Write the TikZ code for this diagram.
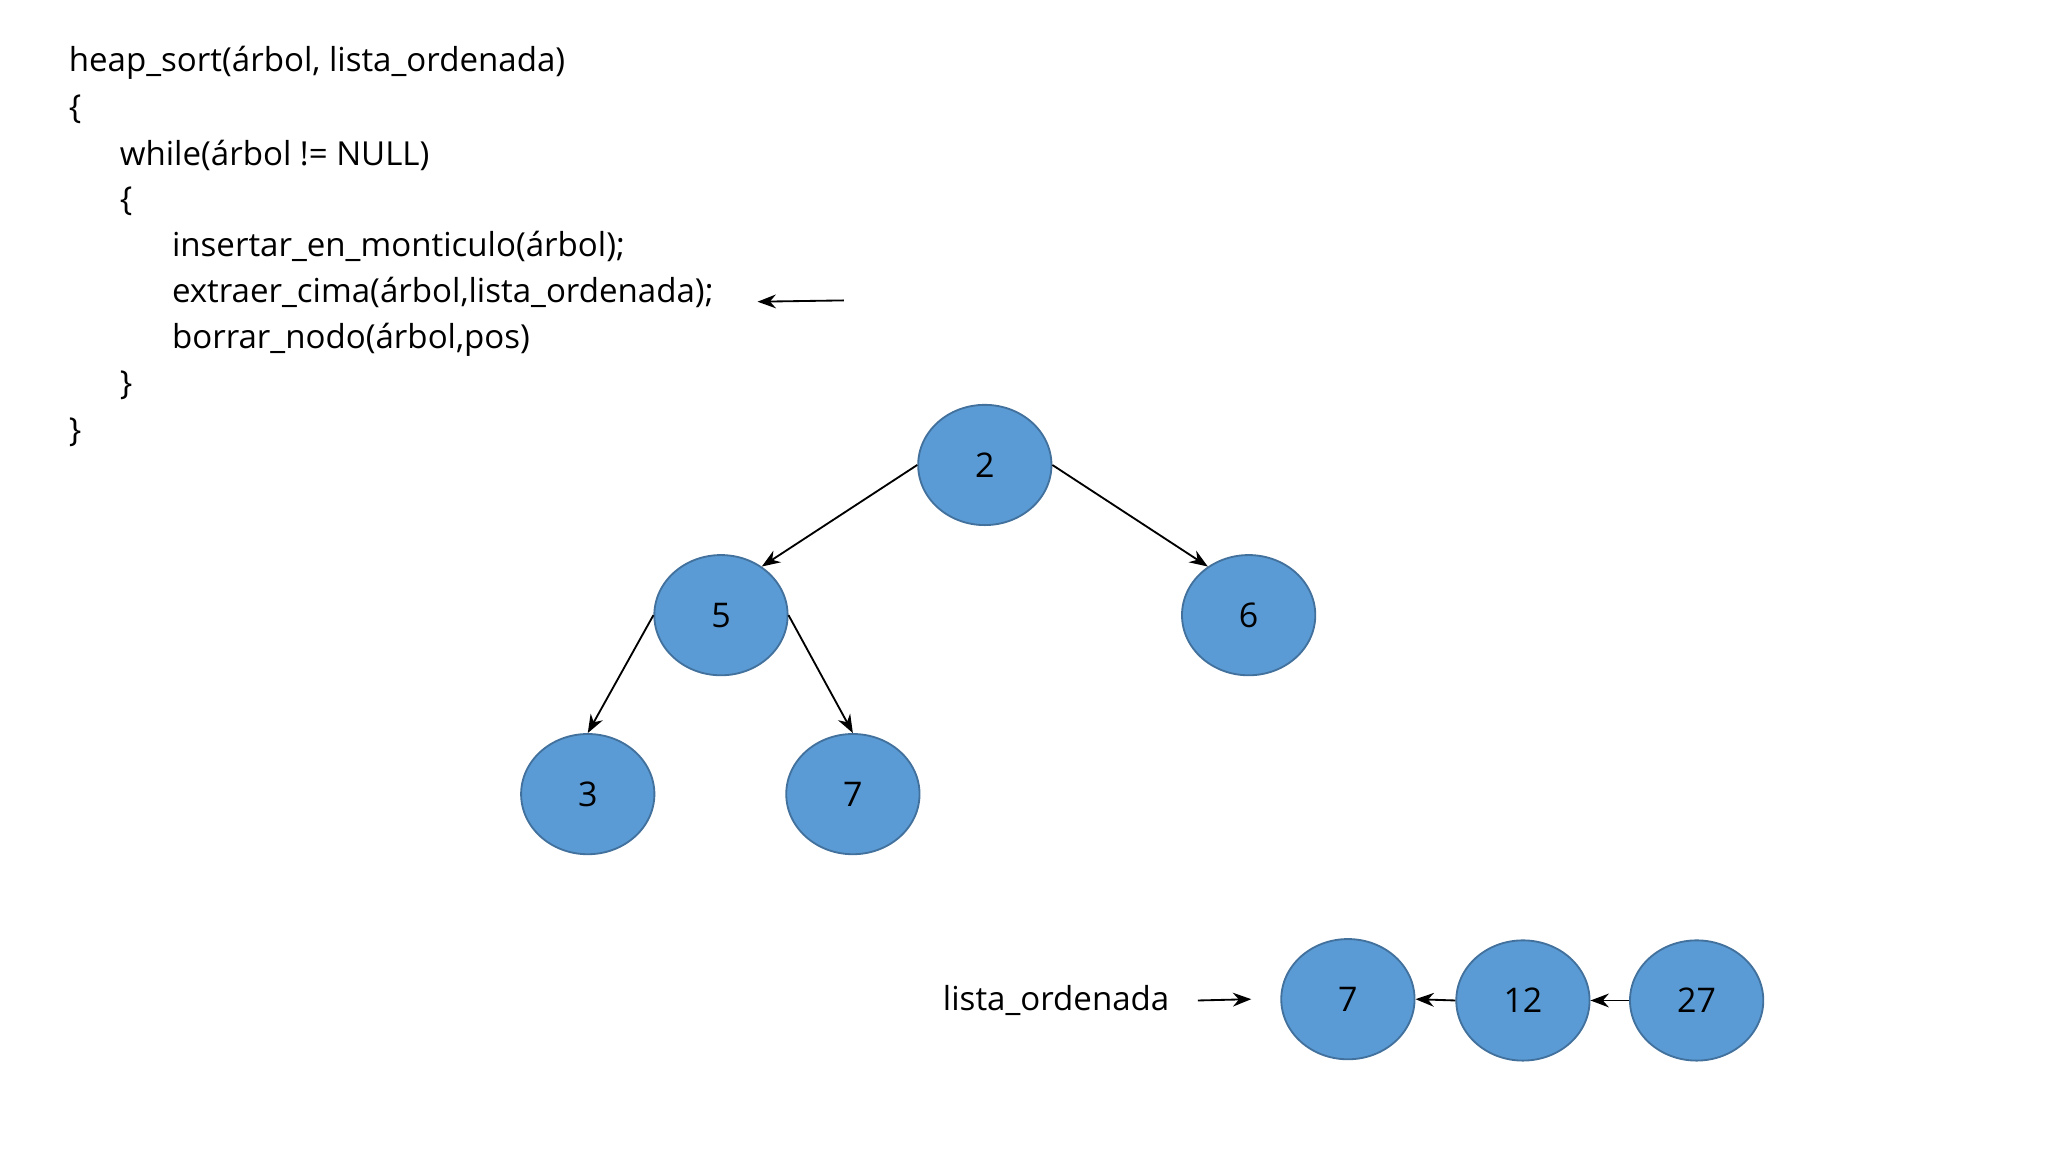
\documentclass[tikz,border=0pt]{standalone}
\usepackage{fontspec}
\setmainfont{Open Sans}
\usetikzlibrary{shapes.geometric,arrows.meta}
\definecolor{nfill}{HTML}{5B9BD5}
\definecolor{nborder}{HTML}{41719C}
\tikzset{
  hnode/.style={ellipse,draw=nborder,fill=nfill,line width=0.4pt,minimum width=1.02cm,minimum height=0.92cm,inner sep=0pt,font=\fontsize{7.4}{8}\selectfont},
  code/.style={anchor=west,inner sep=0pt,font=\fontsize{7.2}{8}\selectfont},
  conn/.style={-{Stealth[length=4pt,width=3pt]},line width=0.4pt}
}
\begin{document}
\begin{tikzpicture}[x=0.01cm,y=-0.01cm]
\useasboundingbox[fill=white] (0,0) rectangle (1568,882);
\node[code] (c1) at (52,48) {heap\_sort(árbol, lista\_ordenada)};
\node[code] (c2) at (52,84) {\{};
\node[code] (c3) at (91,119) {while(árbol != NULL)};
\node[code] (c4) at (91,154) {\{};
\node[code] (c5) at (131,189) {insertar\_en\_monticulo(árbol);};
\node[code] (c6) at (131,224) {extraer\_cima(árbol,lista\_ordenada);};
\node[code] (c7) at (131,260) {borrar\_nodo(árbol,pos)};
\node[code] (c8) at (91,295) {\}};
\node[code] (c9) at (52,331) {\}};
\coordinate (p6) at (646,230);
\coordinate (p6e) at (580,231);
\draw[conn] (p6) -- (p6e);

\node[hnode] (n2) at (754,356) {2};
\node[hnode] (n5) at (552,471) {5};
\node[hnode] (n6) at (956,471) {6};
\node[hnode] (n3) at (450,608) {3};
\node[hnode] (n7) at (653,608) {7};
\draw[conn] (n2.west) -- (n5.50);
\draw[conn] (n2.east) -- (n6.130);
\draw[conn] (n5.west) -- (n3.north);
\draw[conn] (n5.east) -- (n7.north);

\node[code,anchor=east] (lo) at (896,766) {lista\_ordenada};
\node[hnode] (l7) at (1032,765) {7};
\node[hnode] (l12) at (1166,766) {12};
\node[hnode] (l27) at (1299,766) {27};
\coordinate (lt) at (958,765);
\draw[conn] ([xshift=6]lo.east) -- (lt);
\draw[conn] (l12.west) -- (l7.east);
\draw[conn] (l27.west) -- (l12.east);
\end{tikzpicture}
\end{document}
